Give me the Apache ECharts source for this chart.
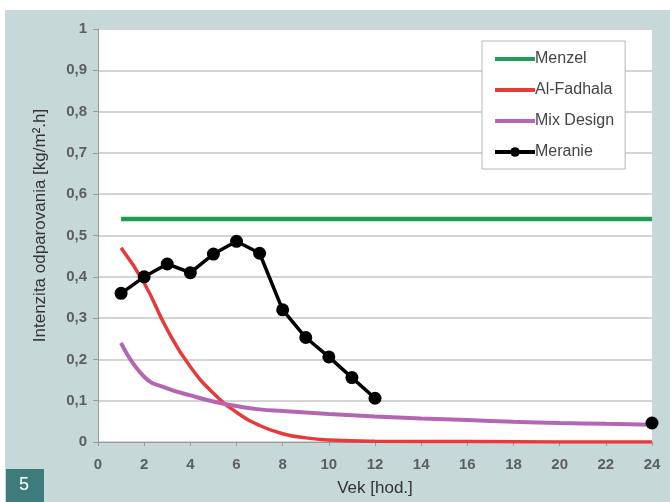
<!DOCTYPE html>
<html>
<head>
<meta charset="utf-8">
<script src="https://cdn.jsdelivr.net/npm/echarts@6/dist/echarts.min.js"></script>
<style>
html,body{margin:0;padding:0;background:#ffffff;}
#chart{width:670px;height:502px;}
</style>
</head>
<body>
<div id="chart"></div>
<script>
// ---- data ----
var menzelX = [1, 24];
var menzelY = [0.54, 0.54];
var fadhalaX = [1, 2, 3, 4, 5, 6, 7, 8, 9, 10, 12, 16, 20, 24];
var fadhalaY = [0.47, 0.385, 0.272, 0.182, 0.118, 0.072, 0.04, 0.02, 0.01, 0.005, 0.002, 0.001, 0.0, 0.0];
var mixX = [1, 2, 3, 4, 5, 6, 7, 8, 10, 12, 14, 16, 18, 20, 22, 24];
var mixY = [0.24, 0.158, 0.13, 0.113, 0.098, 0.087, 0.079, 0.075, 0.068, 0.062, 0.057, 0.053, 0.049, 0.046, 0.044, 0.042];
var meranieX = [1, 2, 3, 4, 5, 6, 7, 8, 9, 10, 11, 12, 18, 24];
var meranieY = [0.36, 0.40, 0.431, 0.41, 0.455, 0.486, 0.457, 0.32, 0.253, 0.206, 0.156, 0.106, null, 0.046];
var seriesNames = ['Menzel', 'Al-Fadhala', 'Mix Design', 'Meranie'];
var yTickLabels = ['0', '0,1', '0,2', '0,3', '0,4', '0,5', '0,6', '0,7', '0,8', '0,9', '1'];
var xAxisTitle = 'Vek [hod.]';
var yAxisTitle = 'Intenzita odparovania [kg/m\u00B2.h]';
var figNumber = '5';

function pairs(xs, ys) {
  return xs.map(function (x, i) { return [x, ys[i]]; });
}

var chart = echarts.init(document.getElementById('chart'), null, {renderer: 'canvas'});
var font = '"Liberation Sans", Arial, sans-serif';
var option = {
  backgroundColor: '#c6d8d8',
  animation: false,
  textStyle: {fontFamily: font},
  graphic: [
    {type: 'rect', left: 0, top: 0, shape: {width: 670, height: 10}, style: {fill: '#ffffff'}, silent: true},
    {type: 'rect', left: 0, top: 0, shape: {width: 5, height: 502}, style: {fill: '#ffffff'}, silent: true},
    {type: 'rect', left: 6, top: 469, shape: {width: 38, height: 33}, style: {fill: '#3e7b7b'}, silent: true},
    {type: 'text', left: 19, top: 476, style: {text: figNumber, fill: '#ffffff', font: '18px ' + font}, silent: true}
  ],
  grid: {left: 98, right: 18, top: 29, bottom: 60, show: true, backgroundColor: '#ffffff', borderWidth: 0},
  legend: {
    orient: 'vertical',
    left: 482, top: 41,
    padding: [10, 11, 9, 11],
    itemWidth: 40, itemHeight: 12,
    itemGap: 15,
    backgroundColor: '#ffffff',
    borderColor: '#b8b8b8', borderWidth: 1,
    lineStyle: {width: 4},
    textStyle: {color: '#444', fontSize: 16, fontFamily: font, padding: [0, 0, 0, -5]},
    data: [
      {name: seriesNames[0], itemStyle: {opacity: 0}},
      {name: seriesNames[1], itemStyle: {opacity: 0}},
      {name: seriesNames[2], itemStyle: {opacity: 0}},
      {name: seriesNames[3]}
    ]
  },
  xAxis: {
    type: 'value', min: 0, max: 24, interval: 2,
    name: xAxisTitle, nameLocation: 'middle', nameGap: 38,
    nameTextStyle: {color: '#333', fontSize: 17, fontFamily: font},
    axisLine: {show: true, lineStyle: {color: '#9a9a9a', width: 1}},
    axisTick: {show: true, length: 4, lineStyle: {color: '#9a9a9a'}},
    axisLabel: {color: '#5e5e5e', fontSize: 15, fontWeight: 'bold', margin: 15},
    splitLine: {show: false}
  },
  yAxis: {
    type: 'value', min: 0, max: 1, interval: 0.1,
    name: yAxisTitle, nameLocation: 'middle', nameGap: 49, nameRotate: 90,
    nameTextStyle: {color: '#333', fontSize: 17, fontFamily: font, padding: [0, 0, 0, 20]},
    axisLine: {show: true, lineStyle: {color: '#9a9a9a', width: 1}},
    axisTick: {show: true, length: 5, lineStyle: {color: '#9a9a9a'}},
    axisLabel: {
      color: '#5e5e5e', fontSize: 15, fontWeight: 'bold', margin: 11,
      formatter: function (v) { return yTickLabels[Math.round(v * 10)]; }
    },
    splitLine: {show: true, lineStyle: {color: '#d4d4d4', width: 2}}
  },
  series: [
    {name: seriesNames[0], type: 'line', data: pairs(menzelX, menzelY), symbol: 'none',
      lineStyle: {color: '#1f9d52', width: 4.5}, itemStyle: {color: '#1f9d52'}},
    {name: seriesNames[1], type: 'line', data: pairs(fadhalaX, fadhalaY), symbol: 'none', smooth: 0.5,
      lineStyle: {color: '#e63a3c', width: 3.5}, itemStyle: {color: '#e63a3c'}},
    {name: seriesNames[2], type: 'line', data: pairs(mixX, mixY), symbol: 'none', smooth: 0.5,
      lineStyle: {color: '#b466b4', width: 4}, itemStyle: {color: '#b466b4'}},
    {name: seriesNames[3], type: 'line', data: pairs(meranieX, meranieY), symbol: 'circle', symbolSize: 13,
      connectNulls: false,
      lineStyle: {color: '#000000', width: 3.5}, itemStyle: {color: '#000000'}}
  ]
};
chart.setOption(option);
</script>
</body>
</html>
